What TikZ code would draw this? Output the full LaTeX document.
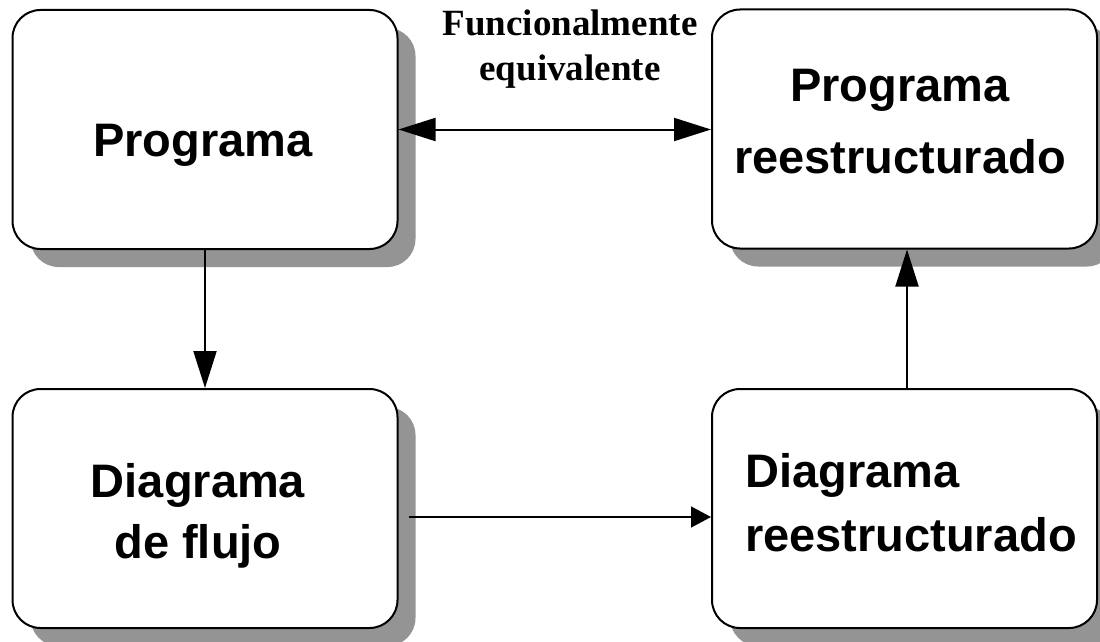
\documentclass[tikz,border=0pt]{standalone}
\usepackage{fontspec}
\setmainfont{Liberation Serif}
\newfontfamily\arialfont{Liberation Sans}
\usetikzlibrary{arrows.meta,shadows,calc}
\definecolor{shadowgray}{RGB}{148,148,148}

\begin{document}
\begin{tikzpicture}[x=1pt,y=-1pt,
  box/.style={draw=black, line width=2pt, fill=white, rounded corners=28pt,
    minimum width=385pt, minimum height=239pt, inner sep=0pt,
    drop shadow={shadow xshift=18pt, shadow yshift=-18pt, fill=shadowgray, opacity=1}},
  boxtext/.style={font=\arialfont\bfseries\fontsize{47}{64}\selectfont, align=center, inner sep=0pt},
  eqtext/.style={font=\bfseries\fontsize{37}{45}\selectfont, align=center, inner sep=0pt},
  bigtip/.style={line width=2pt},
  bigarrow/.style={bigtip, -{Triangle[length=37pt,width=23pt]}},
  dblarrow/.style={bigtip, {Triangle[length=37pt,width=23pt]}-{Triangle[length=37pt,width=23pt]}},
  smallarrow/.style={line width=1.4pt, -{Triangle[length=20pt,width=21pt]}}
]
  % page area
  \fill[white] (0,0) rectangle (1100,642);
  \useasboundingbox (0,0) rectangle (1100,642);

  % the four boxes
  \node[box] (prog)  at (205,129.5) {};
  \node[box] (progr) at (904.5,129) {};
  \node[box] (diag)  at (205,508.5) {};
  \node[box] (diagr) at (904.5,508.5) {};

  % box captions
  \node[boxtext] (progtxt)  at (203,145) {Programa};
  \node[boxtext, font=\arialfont\bfseries\fontsize{47}{72}\selectfont] (progrtxt) at (900,122) {Programa\\reestructurado};
  \node[boxtext, font=\arialfont\bfseries\fontsize{47}{61}\selectfont] (diagtxt) at (198,516) {Diagrama\\de flujo};
  \node[boxtext, align=left] (diagrtxt) at (911,503) {Diagrama\\reestructurado};

  % label over the double arrow
  \node[eqtext] (eqtxt) at (570,49) {Funcionalmente\\equivalente};

  % connectors
  \draw[dblarrow] (prog.east) -- (prog.east -| progr.west);
  \draw[bigarrow] (prog.south) -- (diag.north);
  \coordinate (flowstart) at ($(diag.east)+(10,8.5)$);
  \draw[smallarrow] (flowstart) -- (flowstart -| diagr.west);
  \draw[bigarrow] ($(diagr.north)+(2.5,0)$) -- ($(progr.south)+(2.5,0)$);
\end{tikzpicture}
\end{document}
